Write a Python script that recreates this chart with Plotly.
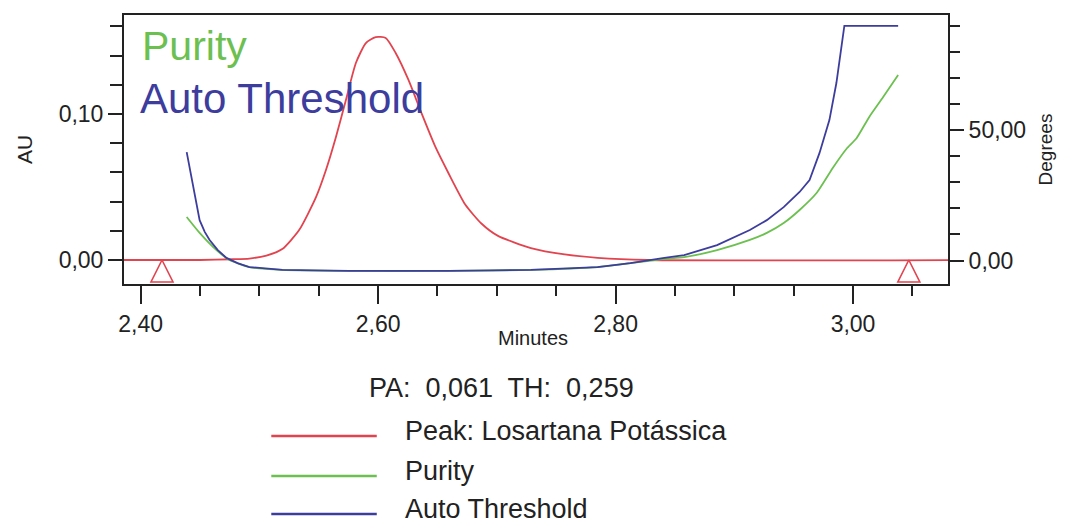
import plotly.graph_objects as go

# ---------------- data ----------------
# Peak trace (AU, left axis)
peak_t = [2.380, 2.450, 2.4780, 2.4916, 2.5059, 2.5193, 2.5335, 2.5478, 2.5561, 2.5645,
          2.5729, 2.5813, 2.5897, 2.5980, 2.6064, 2.6148, 2.6256, 2.6365, 2.6483,
          2.6592, 2.6734, 2.6870, 2.7010, 2.7287, 2.7572, 2.7849, 2.8268, 3.090]
peak_au = [0.0, 0.0, 0.0005, 0.0010, 0.0030, 0.0075, 0.0205, 0.0432, 0.0616, 0.0842,
           0.1096, 0.1349, 0.1486, 0.1527, 0.1521, 0.1418, 0.1233, 0.1007, 0.0774,
           0.0596, 0.0380, 0.0250, 0.0165, 0.0082, 0.0038, 0.0015, 0.0, 0.0]

# Purity angle (degrees, right axis)
purity_t = [2.4388, 2.4497, 2.4639, 2.4748, 2.4916, 2.5193, 2.5754, 2.6592, 2.7287,
            2.7849, 2.8125, 2.8411, 2.8578, 2.8855, 2.9131, 2.9274, 2.9416, 2.9550,
            2.9693, 2.9835, 2.9944, 3.0028, 3.0137, 3.0254, 3.0380]
purity_deg = [16.7, 10.6, 4.0, 0.2, -2.5, -3.6, -4.0, -4.0, -3.6,
              -2.5, -1.0, 0.6, 1.3, 4.0, 7.9, 10.6, 14.4, 19.4,
              25.9, 35.9, 42.8, 46.8, 55.1, 62.7, 71.2]

# Auto threshold angle (degrees, right axis)
threshold_t = [2.4388, 2.4450, 2.4497, 2.4540, 2.4581, 2.4650, 2.4723, 2.4816, 2.4916,
               2.5193, 2.5754, 2.6592, 2.7287, 2.7849, 2.8125, 2.8411, 2.8578, 2.8855,
               2.9131, 2.9274, 2.9416, 2.9550, 2.9634, 2.9718, 2.9801, 2.9860, 2.9927,
               3.0380]
threshold_deg = [41.6, 26.0, 15.5, 11.0, 7.9, 4.0, 1.0, -1.0, -2.5,
                 -3.6, -4.0, -4.0, -3.6, -2.5, -1.0, 1.0, 2.1, 5.9,
                 11.7, 15.5, 20.5, 26.3, 30.9, 41.3, 53.9, 68.1, 90.0,
                 90.0]

# Peak start / end markers
marker_t = [2.418, 3.047]
marker_au = [0.0, 0.0]

series_names = ["Peak: Losartana Potássica", "Purity", "Auto Threshold"]
summary_text = "PA:  0,061  TH:  0,259"
x_title, y_title, y2_title = "Minutes", "AU", "Degrees"

# ---------------- styles ----------------
RED = "#e2444f"
GREEN = "#6cc050"
BLUE = "#3d3d9e"
INK = "#222222"
FONT = "Liberation Sans, Arial, sans-serif"

W, H = 1065, 526
PX0, PX1, PY0, PY1 = 124, 952, 15, 284   # plot area in pixels


def paper_x(px):
    return (px - PX0) / (PX1 - PX0)


def paper_y(py):
    return (PY1 - py) / (PY1 - PY0)


fig = go.Figure()

fig.add_trace(go.Scatter(x=purity_t, y=purity_deg, mode="lines", yaxis="y2",
                         line=dict(color=GREEN, width=1.8, shape="spline", smoothing=0.5),
                         name=series_names[1], showlegend=False))
fig.add_trace(go.Scatter(x=threshold_t, y=threshold_deg, mode="lines", yaxis="y2",
                         line=dict(color=BLUE, width=1.8, shape="linear"),
                         name=series_names[2], showlegend=False))
fig.add_trace(go.Scatter(x=peak_t, y=peak_au, mode="lines", yaxis="y",
                         line=dict(color=RED, width=1.8, shape="spline", smoothing=0.6),
                         name=series_names[0], showlegend=False))
fig.add_trace(go.Scatter(x=marker_t, y=marker_au, mode="markers", yaxis="y",
                         marker=dict(symbol="arrow-up-open", size=22, color=RED,
                                     line=dict(width=1.6, color=RED)),
                         showlegend=False, hoverinfo="skip"))

axis_font = dict(family=FONT, size=23, color=INK)

fig.update_layout(
    width=W, height=H,
    margin=dict(l=PX0, r=W - PX1, t=PY0, b=H - PY1, pad=0),
    paper_bgcolor="white", plot_bgcolor="white",
    separators=",.",
    showlegend=False,
    font=dict(family=FONT, color=INK),
    xaxis=dict(
        range=[2.386, 3.080], tick0=2.4, dtick=0.2, tickformat=".2f",
        ticks="outside", ticklen=18, tickwidth=2, tickcolor=INK,
        minor=dict(dtick=0.05, tick0=2.4, ticks="outside", ticklen=10, tickwidth=2,
                   tickcolor=INK),
        showline=True, linecolor=INK, linewidth=2, mirror=True,
        showgrid=False, zeroline=False, tickfont=axis_font,
    ),
    yaxis=dict(
        range=[-0.01644, 0.1678], tick0=0, dtick=0.1, tickformat=".2f",
        ticks="outside", ticklen=14, tickwidth=2, tickcolor=INK,
        minor=dict(dtick=0.02, tick0=0, ticks="outside", ticklen=12, tickwidth=2,
                   tickcolor=INK),
        showline=True, linecolor=INK, linewidth=2,
        showgrid=False, zeroline=False, tickfont=axis_font,
        title=dict(text=y_title, font=dict(family=FONT, size=21, color=INK),
                   standoff=20),
    ),
    yaxis2=dict(
        overlaying="y", side="right",
        range=[-9.0, 94.2], tick0=0, dtick=50, tickformat=".2f",
        ticks="outside", ticklen=14, tickwidth=2, tickcolor=INK,
        minor=dict(dtick=10, tick0=0, ticks="outside", ticklen=10, tickwidth=2,
                   tickcolor=INK),
        showline=True, linecolor=INK, linewidth=2,
        showgrid=False, zeroline=False, tickfont=axis_font,
        title=dict(text=y2_title, font=dict(family=FONT, size=19, color=INK),
                   standoff=14),
    ),
)

# x-axis title placed as in the reference (tight under the tick labels)
fig.add_annotation(x=paper_x(535), y=paper_y(338), xref="paper", yref="paper",
                   text=x_title, showarrow=False, xanchor="center", yanchor="middle",
                   font=dict(family=FONT, size=20, color=INK))

# In-plot labels
fig.add_annotation(x=paper_x(140), y=paper_y(46), xref="paper", yref="paper",
                   text=series_names[1], showarrow=False, xanchor="left", yanchor="middle",
                   font=dict(family=FONT, size=41, color=GREEN))
fig.add_annotation(x=paper_x(138), y=paper_y(98), xref="paper", yref="paper",
                   text=series_names[2], showarrow=False, xanchor="left", yanchor="middle",
                   font=dict(family=FONT, size=42, color=BLUE))

# Summary line below the axis
fig.add_annotation(x=paper_x(503), y=paper_y(388), xref="paper", yref="paper",
                   text=summary_text, showarrow=False, xanchor="center", yanchor="middle",
                   font=dict(family=FONT, size=27, color=INK))

# Custom legend (long line samples + labels)
legend_colors = [RED, GREEN, BLUE]
legend_rows = [431, 471, 509]
for name, col, row in zip(series_names, legend_colors, legend_rows):
    fig.add_shape(type="line", xref="paper", yref="paper",
                  x0=paper_x(272), x1=paper_x(378), y0=paper_y(row + 5), y1=paper_y(row + 5),
                  line=dict(color=col, width=2.5))
    fig.add_annotation(x=paper_x(404), y=paper_y(row), xref="paper", yref="paper",
                       text=name, showarrow=False, xanchor="left", yanchor="middle",
                       font=dict(family=FONT, size=27, color=INK))

fig.write_html("out.html")
